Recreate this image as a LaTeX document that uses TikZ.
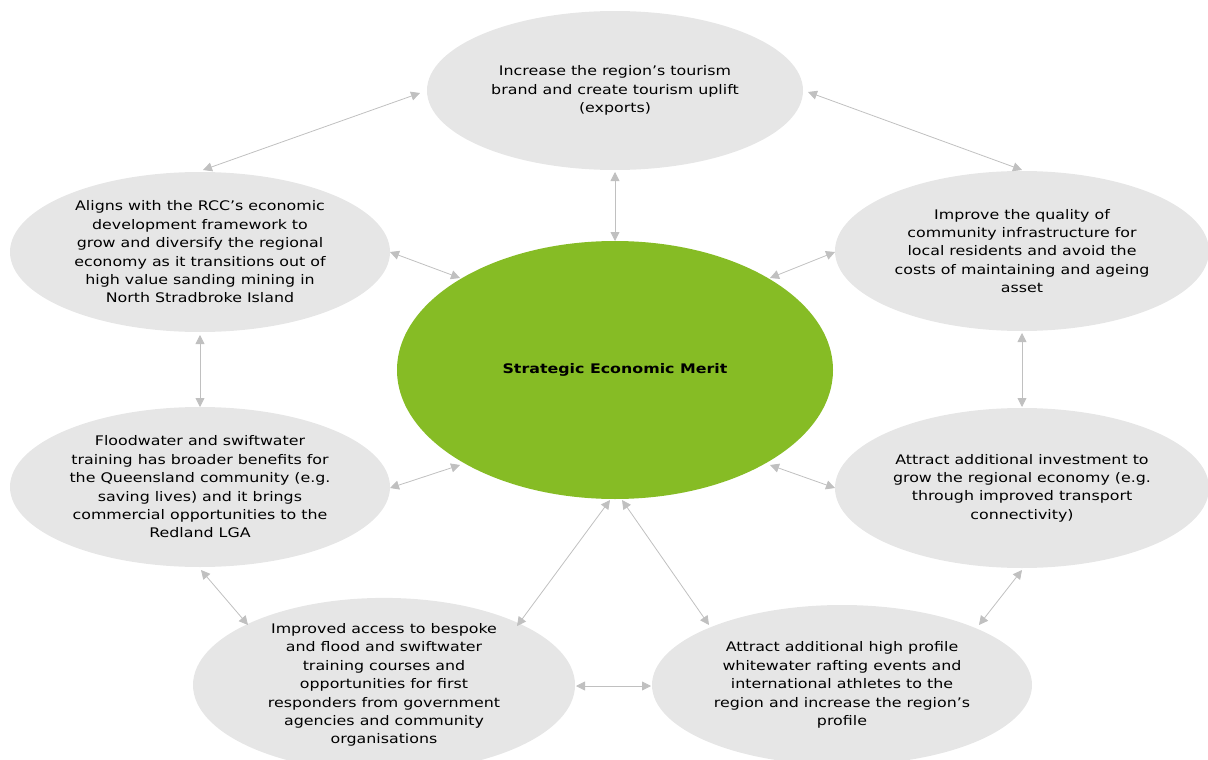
\documentclass[tikz,border=0pt]{standalone}
\usepackage{fontspec}
\setmainfont[FakeStretch=1.2]{DejaVu Sans}
\usetikzlibrary{shapes.geometric,arrows.meta}
\definecolor{bubble}{HTML}{E6E6E6}
\definecolor{merit}{HTML}{86BC25}
\definecolor{link}{HTML}{C0C0C0}
\begin{document}
\begin{tikzpicture}[x=1pt,y=-1pt,
  bub/.style={ellipse,fill=bubble,inner sep=0pt,align=center,font=\fontsize{13.2}{18.4}\selectfont},
  lnk/.style={draw=link,line width=0.8pt,{Triangle[length=9pt,width=9pt]}-{Triangle[length=9pt,width=9pt]}}]
\useasboundingbox (0,0) rectangle (1208,760);
\node[bub,minimum width=376pt,minimum height=159pt] (top) at (615,90.5) {Increase the region’s tourism\\brand and create tourism uplift\\(exports)};
\node[bub,minimum width=380pt,minimum height=160pt] (ul) at (200,252) {Aligns with the RCC’s economic\\development framework to\\grow and diversify the regional\\economy as it transitions out of\\high value sanding mining in\\North Stradbroke Island};
\node[bub,minimum width=374pt,minimum height=160pt] (ur) at (1022,251) {Improve the quality of\\community infrastructure for\\local residents and avoid the\\costs of maintaining and ageing\\asset};
\node[ellipse,fill=merit,minimum width=436pt,minimum height=258pt,font=\fontsize{13.2}{15}\selectfont\bfseries] (c) at (615,370) {Strategic Economic Merit};
\node[bub,minimum width=380pt,minimum height=160pt] (ml) at (200,487) {Floodwater and swiftwater\\training has broader benefits for\\the Queensland community (e.g.\\saving lives) and it brings\\commercial opportunities to the\\Redland LGA};
\node[bub,minimum width=374pt,minimum height=160pt] (mr) at (1022,488) {Attract additional investment to\\grow the regional economy (e.g.\\through improved transport\\connectivity)};
\node[bub,minimum width=382pt,minimum height=160pt] (bl) at (384,685) {Improved access to bespoke\\and flood and swiftwater\\training courses and\\opportunities for first\\responders from government\\agencies and community\\organisations};
\node[bub,minimum width=380pt,minimum height=160pt] (br) at (842,685) {Attract additional high profile\\whitewater rafting events and\\international athletes to the\\region and increase the region’s\\profile};
\coordinate (a1) at (420,93); \coordinate (b1) at (203,170);
\coordinate (a2) at (808,92); \coordinate (b2) at (1022,170);
\coordinate (a3) at (615,172); \coordinate (b3) at (615,241);
\coordinate (a4) at (390,252); \coordinate (b4) at (460,278);
\coordinate (a5) at (835,252); \coordinate (b5) at (770,278);
\coordinate (a6) at (200,335); \coordinate (b6) at (200,407);
\coordinate (a7) at (1022,333); \coordinate (b7) at (1022,407);
\coordinate (a8) at (390,488); \coordinate (b8) at (460,465);
\coordinate (a9) at (835,488); \coordinate (b9) at (770,465);
\coordinate (a10) at (201,570); \coordinate (b10) at (248,625);
\coordinate (a11) at (1022,570); \coordinate (b11) at (979,625);
\coordinate (a12) at (517,626); \coordinate (b12) at (610,500);
\coordinate (a13) at (709,625); \coordinate (b13) at (622,500);
\coordinate (a14) at (576,686); \coordinate (b14) at (651,686);
\foreach \i in {1,...,14} {\draw[lnk] (a\i) -- (b\i);}
\end{tikzpicture}
\end{document}
